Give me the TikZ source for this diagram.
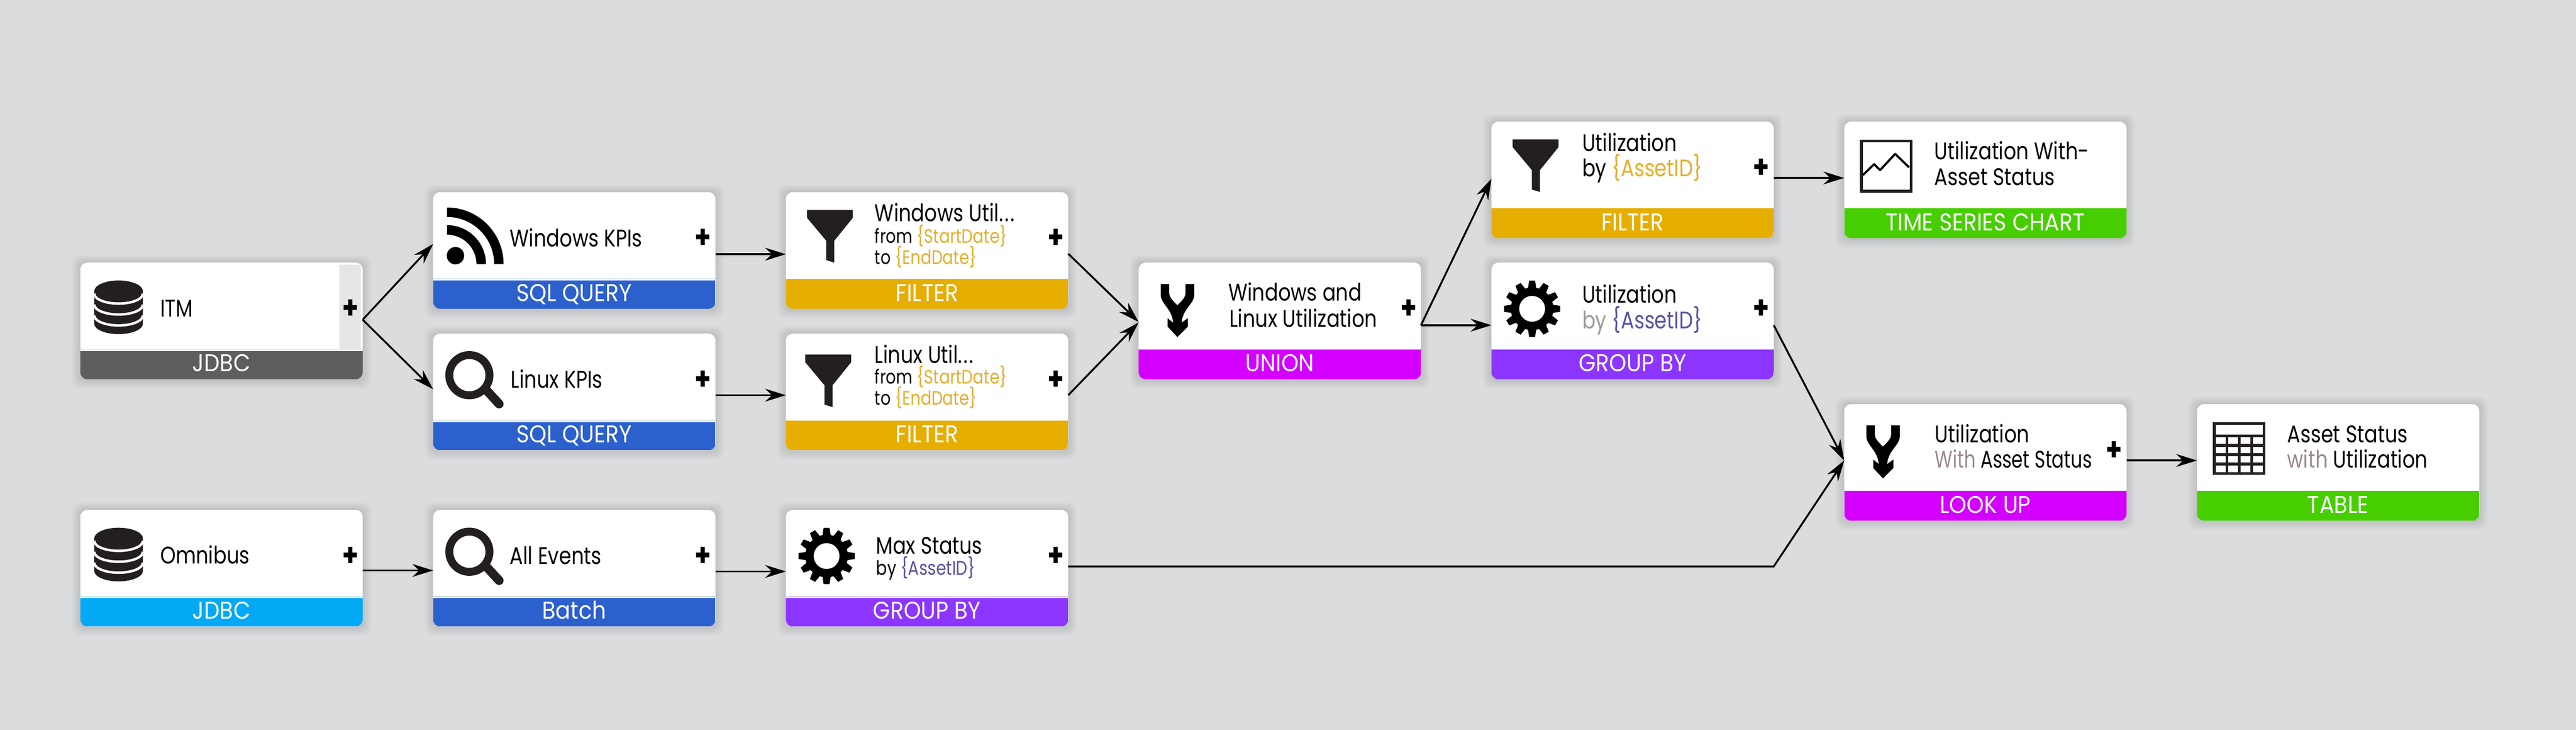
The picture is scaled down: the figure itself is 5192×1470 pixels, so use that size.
\documentclass[tikz,border=0pt]{standalone}
\usepackage{fontspec}
\usetikzlibrary{arrows.meta}
\newfontfamily\futu[FakeStretch=0.82]{Poppins}
\newfontfamily\futuwide[FakeStretch=0.91]{Poppins}
\newfontfamily\futunarrow[FakeStretch=0.76]{Poppins}
\definecolor{canvas}{HTML}{DBDCDE}
\definecolor{ink}{HTML}{231F20}
\definecolor{cJdbcGrey}{HTML}{5E5E5E}
\definecolor{cCyan}{HTML}{03A9F4}
\definecolor{cBlue}{HTML}{2B60CD}
\definecolor{cGold}{HTML}{E5AE00}
\definecolor{cMagenta}{HTML}{D400FF}
\definecolor{cPurple}{HTML}{8C35FF}
\definecolor{cGreen}{HTML}{47CE00}
\definecolor{paramgold}{HTML}{E5AE2E}
\definecolor{paramblue}{HTML}{5553A5}
\definecolor{softgrey}{HTML}{9B9B9B}
\definecolor{softbrown}{HTML}{9B8A8A}
\definecolor{panelgrey}{HTML}{E4E5E7}
\newcommand\wdots{.\kern1.6pt.\kern1.6pt.}
\tikzset{
  cardbody/.style={draw=none,fill=white,rounded corners=7pt,minimum width=284.5pt,minimum height=117.5pt,inner sep=0pt,outer sep=0pt},
  striptext/.style={anchor=base,inner sep=0pt,outer sep=0pt,text=white,font=\futuwide\fontsize{24.4}{24.4}\selectfont},
  titletxt/.style={anchor=base west,inner sep=0pt,outer sep=0pt,text=black,font=\futu\fontsize{24.2}{24.2}\selectfont},
  narrowtxt/.style={anchor=base west,inner sep=0pt,outer sep=0pt,text=black,font=\futunarrow\fontsize{24.2}{24.2}\selectfont},
  subtxt/.style={anchor=base west,inner sep=0pt,outer sep=0pt,text=black,font=\futu\fontsize{19.6}{19.6}\selectfont},
  midtxt/.style={anchor=base west,inner sep=0pt,outer sep=0pt,text=black,font=\futu\fontsize{24}{24}\selectfont},
  smalltxt/.style={anchor=base west,inner sep=0pt,outer sep=0pt,text=black,font=\futu\fontsize{20}{20}\selectfont},
  plusmark/.style={inner sep=0pt,outer sep=0pt,text=black,font=\futu\bfseries\fontsize{32}{32}\selectfont},
  flow/.style={draw=black,line width=1.9pt,-{Stealth[length=21pt,width=13pt,inset=7pt]}},
}
\newcommand\card[7]{%
  \pgfmathsetmacro\cardR{#2+569}%
  \pgfmathsetmacro\cardB{#3+235}%
  \pgfmathsetmacro\cardS{\cardB-#6}%
  \pgfmathsetmacro\cardC{#2+284.5}%
  \pgfmathsetmacro\cardM{#3+117.5}%
  \pgfmathsetmacro\cardL{\cardB-15.5}%
  \foreach \i in {1,...,14}{\fill[black,opacity=.009,rounded corners=8pt] (#2-\i*1.3,#3-\i*1.1) rectangle (\cardR+\i*1.3,\cardB+\i*1.4);}
  \node[cardbody] (#1) at (\cardC,\cardM) {};
  \begin{scope}
    \clip[rounded corners=7pt] (#2,#3) rectangle (\cardR,\cardB);
    \fill[#4] (#2,\cardS) rectangle (\cardR,\cardB);
    \ifnum#7=1 \fill[#4!25] (#2,\cardS-4.5) rectangle (\cardR,\cardS-3); \fi
  \end{scope}
  \node[striptext] (#1-label) at (\cardC,\cardL) {#5};
}
\newcommand\plusat[1]{\node[plusmark] (#1-plus) at ([xshift=-12.5pt,yshift=-47pt]#1.north east) {+};}
\newcommand\dbicon[2]{\begin{scope}[shift={(#1,#2)}]
  \fill[ink] (0,21.4) arc[start angle=180,end angle=360,x radius=49,y radius=21.4] -- (98,87) arc[start angle=0,end angle=180,x radius=49,y radius=21] -- cycle;
  \foreach \d in {26.5,48.5,70.5}{\draw[white,line width=2.5pt] (0,\d) arc[start angle=180,end angle=0,x radius=49,y radius=20];}
  \end{scope}}
\newcommand\funnel[2]{\begin{scope}[shift={(#1,#2)}]
  \fill[ink] (0,0) -- (92.5,0) -- (92.5,15.6) -- (55,62) -- (55,106) -- (38.8,101) -- (38.8,62) -- (0,15.6) -- cycle;
  \end{scope}}
\newcommand\mergeicon[2]{\begin{scope}[shift={(#1,#2)}]
  \fill[black] (0,0) -- (17,0) -- (17,18) .. controls (17,28) and (27,36) .. (33.5,43) .. controls (40,36) and (50,28) .. (50,18) -- (50,0) -- (67.5,0) -- (67.5,22) .. controls (67.5,40) and (44,50) .. (42,78) -- (54.5,69) -- (54.5,86) -- (33.5,107) -- (14,86) -- (14,69) -- (25,78) .. controls (23,50) and (0,40) .. (0,22) -- cycle;
  \end{scope}}
\newcommand\gearicon[2]{\begin{scope}[shift={(#1,#2)}]
  \fill[black] (84:57) \foreach \a in {90,120,...,420}{ -- (\a-6:57) -- (\a+6:57) -- (\a+11:43) -- (\a+19:43)} -- cycle;
  \fill[white] (0,0) circle[radius=26];
  \end{scope}}
\newcommand\lensicon[2]{\begin{scope}[shift={(#1,#2)}]
  \draw[ink,line width=8pt] (0,0) circle[radius=40.5];
  \draw[ink,line width=9pt,line cap=round] (36.5,32.5) -- (60,58);
  \end{scope}}
\begin{document}
\begin{tikzpicture}[x=0.5pt,y=-0.5pt]
\useasboundingbox (0,0) rectangle (5192,1470);
\fill[canvas] (0,0) rectangle (5192,1470);
% cards
\card{itm}{162}{529}{cJdbcGrey}{JDBC}{57}{1}
\card{win}{873}{387}{cBlue}{SQL QUERY}{57}{1}
\card{lin}{873}{672}{cBlue}{SQL QUERY}{57}{1}
\card{fw}{1584}{387}{cGold}{FILTER}{60}{0}
\card{fl}{1584}{672}{cGold}{FILTER}{60}{0}
\card{un}{2295}{529}{cMagenta}{UNION}{60}{0}
\card{fa}{3006}{245}{cGold}{FILTER}{60}{0}
\card{ga}{3006}{529}{cPurple}{GROUP BY}{60}{0}
\card{ts}{3717}{245}{cGreen}{TIME SERIES CHART}{60}{0}
\card{lk}{3717}{814}{cMagenta}{LOOK UP}{60}{0}
\card{tb}{4428}{814}{cGreen}{TABLE}{60}{0}
\card{om}{162}{1027}{cCyan}{JDBC}{57}{1}
\card{ae}{873}{1027}{cBlue}{Batch}{57}{1}
\card{mx}{1584}{1027}{cPurple}{GROUP BY}{57}{1}
% hover panel of ITM
\fill[panelgrey] (684,703) -- (684,533) -- (714,533) .. controls (727,533) and (727,533) .. (727,546) -- (727,703) -- cycle;
% plus marks
\plusat{itm}\plusat{win}\plusat{lin}\plusat{fw}\plusat{fl}\plusat{un}\plusat{fa}\plusat{ga}\plusat{lk}\plusat{om}\plusat{ae}\plusat{mx}
% titles
\node[titletxt] (t-itm) at (323,638.6) {ITM};
\node[titletxt] (t-win) at (1027.6,496.7) {Windows KPIs};
\node[titletxt] (t-lin) at (1030,781.7) {Linux KPIs};
\node[titletxt] (t-om) at (323,1136) {Omnibus};
\node[titletxt] (t-ae) at (1027.6,1136.7) {All Events};
\node[titletxt] (t-fw) at (1763,446) {Windows Util\wdots};
\node[subtxt] (t-fw2) at (1763,490) {from \textcolor{paramgold}{\{StartDate\}}};
\node[subtxt] (t-fw3) at (1763,532.5) {to \textcolor{paramgold}{\{EndDate\}}};
\node[titletxt] (t-fl) at (1763,732) {Linux Util\wdots};
\node[subtxt] (t-fl2) at (1763,773.6) {from \textcolor{paramgold}{\{StartDate\}}};
\node[subtxt] (t-fl3) at (1763,816) {to \textcolor{paramgold}{\{EndDate\}}};
\node[titletxt] (t-un) at (2475.6,606.4) {Windows and};
\node[titletxt] (t-un2) at (2478,658.6) {Linux Utilization};
\node[titletxt] (t-fa) at (3189,304.6) {Utilization};
\node[titletxt] (t-fa2) at (3189,355.7) {by \textcolor{paramgold}{\{AssetID\}}};
\node[titletxt] (t-ga) at (3189,610) {Utilization};
\node[titletxt] (t-ga2) at (3189,662) {\textcolor{softgrey}{by} \textcolor{paramblue}{\{AssetID\}}};
\node[titletxt] (t-ts) at (3899,321.7) {Utilization With-};
\node[titletxt] (t-ts2) at (3899,373) {Asset Status};
\node[titletxt] (t-lk) at (3900,891) {Utilization};
\node[narrowtxt] (t-lk2) at (3900,942.7) {\textcolor{softbrown}{With} Asset Status};
\node[titletxt] (t-tb) at (4610,891) {Asset Status};
\node[titletxt] (t-tb2) at (4610,942.7) {\textcolor{softbrown}{with} Utilization};
\node[midtxt] (t-mx) at (1766,1115.7) {Max Status};
\node[smalltxt] (t-mx2) at (1766,1158) {by \textcolor{paramblue}{\{AssetID\}}};
% icons
\dbicon{190}{565}
\dbicon{190}{1063}
\begin{scope}[shift={(901,532)}]
  \fill[black] (0,-114) arc[start angle=270,end angle=360,radius=114] -- (95,0) arc[start angle=360,end angle=270,radius=95] -- cycle;
  \fill[black] (0,-78.5) arc[start angle=270,end angle=360,radius=78.5] -- (59.3,0) arc[start angle=360,end angle=270,radius=59.3] -- cycle;
  \fill[black] (17,-17) circle[radius=17.5];
\end{scope}
\lensicon{946}{755.7}
\lensicon{946}{1111.3}
\funnel{1626.5}{423}
\funnel{1623}{714}
\funnel{3048.7}{280.7}
\mergeicon{2339.5}{572}
\mergeicon{3761.6}{856.7}
\gearicon{3088}{622}
\gearicon{1666}{1120}
% chart icon
\begin{scope}[shift={(3748.7,281)}]
  \draw[ink,line width=3pt] (3,3) rectangle (103.3,104);
  \draw[black,line width=2.2pt,line join=round] (6,71.7) -- (28.6,49.7) -- (40.6,61.7) -- (71,29) -- (99,56);
\end{scope}
% table icon
\begin{scope}[shift={(4460,850)}]
  \fill[ink] (0,0) rectangle (106,106.7);
  \fill[white] (6,6) rectangle (100.6,25);
  \foreach \cy/\ch in {30.7/44,50/62.7,68.7/81.7,87.7/100.7}{
    \foreach \cx/\cw in {6/26,31/51,56/75.6,81/100.6}{
      \fill[white] (\cx,\cy) rectangle (\cw,\ch);
    }
  }
\end{scope}
% connectors
\draw[flow] ([yshift=1.25pt]itm.east) -- ([yshift=6.55pt]win.west);
\draw[flow] ([yshift=1.25pt]itm.east) -- ([yshift=2.75pt]lin.west);
\draw[flow] ([yshift=-3.75pt]win.east) -- ([yshift=-3.75pt]fw.west);
\draw[flow] ([yshift=-3.25pt]lin.east) -- ([yshift=-3.25pt]fl.west);
\draw[flow] ([yshift=-3.25pt]fw.east) -- ([yshift=-1pt]un.west);
\draw[flow] ([yshift=-3.25pt]fl.east) -- ([yshift=-1.5pt]un.west);
\draw[flow] ([yshift=-4.25pt]un.east) -- ([yshift=1.25pt]fa.west);
\draw[flow] ([yshift=-4.25pt]un.east) -- ([yshift=-4.25pt]ga.west);
\draw[flow] ([yshift=2pt]fa.east) -- ([yshift=2pt]ts.west);
\draw[flow] ([yshift=-4.25pt]ga.east) -- ([yshift=2pt]lk.west);
\draw[flow] ([yshift=2pt]lk.east) -- ([yshift=2pt]tb.west);
\draw[flow] ([yshift=-2.25pt]om.east) -- ([yshift=-2.25pt]ae.west);
\draw[flow] ([yshift=-3.25pt]ae.east) -- ([yshift=-3.25pt]mx.west);
\coordinate (elbow) at (3575,1141);
\draw[flow] ([yshift=1.75pt]mx.east) -- (elbow) -- ([yshift=2pt]lk.west);
\end{tikzpicture}
\end{document}
